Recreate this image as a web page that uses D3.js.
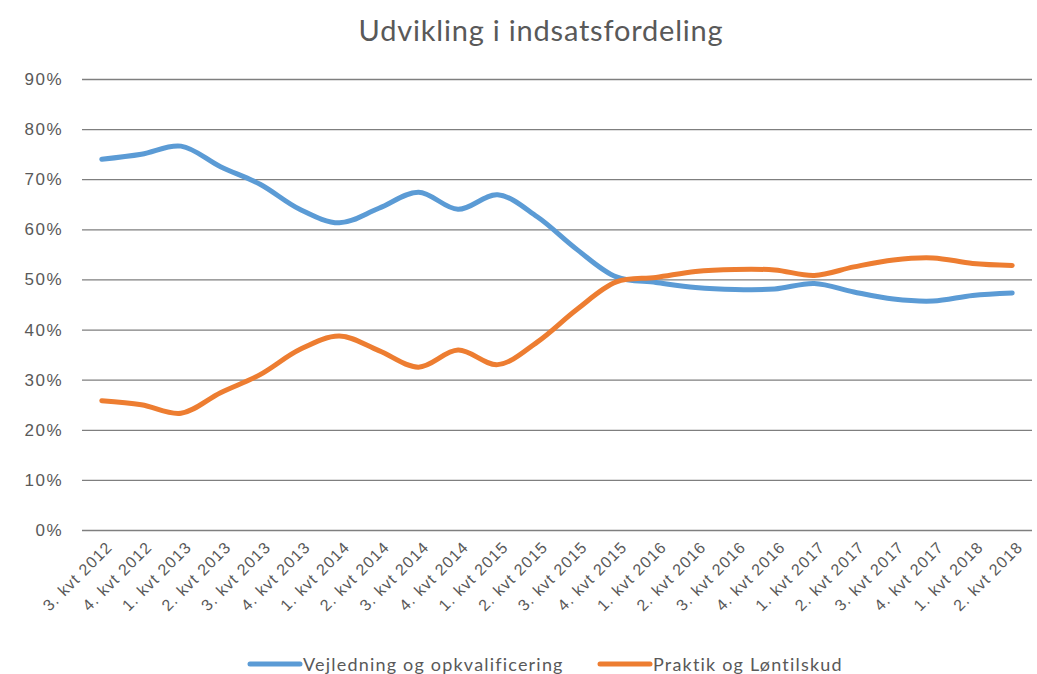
<!DOCTYPE html>
<html>

<head>
  <meta charset="UTF-8" />
  <title>Udvikling i indsatsfordeling</title>
  <style>
    body {
      margin: 0;
      background: #fff;
      font-family: Lato, "Open Sans", sans-serif;
    }

    .tick text {
      fill: #595959;
    }
  </style>
  <script src="https://d3js.org/d3.v7.min.js"></script>
</head>

<body>
  <script>
    /* Data */
    let quarters = [
      "3. kvt 2012", "4. kvt 2012",
      "1. kvt 2013", "2. kvt 2013", "3. kvt 2013", "4. kvt 2013",
      "1. kvt 2014", "2. kvt 2014", "3. kvt 2014", "4. kvt 2014",
      "1. kvt 2015", "2. kvt 2015", "3. kvt 2015", "4. kvt 2015",
      "1. kvt 2016", "2. kvt 2016", "3. kvt 2016", "4. kvt 2016",
      "1. kvt 2017", "2. kvt 2017", "3. kvt 2017", "4. kvt 2017",
      "1. kvt 2018", "2. kvt 2018"
    ];
    let vejledning = [74.0, 75.0, 76.6, 72.5, 69.0, 64.0, 61.3, 64.2, 67.4, 64.0, 66.9, 62.5,
      56.0, 50.5, 49.4, 48.4, 48.0, 48.1, 49.2, 47.5, 46.1, 45.7, 46.8, 47.3];
    let praktik = [25.8, 25.0, 23.3, 27.4, 31.0, 36.0, 38.7, 35.8, 32.5, 35.9, 33.0, 37.5,
      44.0, 49.5, 50.4, 51.6, 52.0, 51.9, 50.8, 52.5, 53.9, 54.3, 53.2, 52.8];
    let yTicks = [0, 10, 20, 30, 40, 50, 60, 70, 80, 90];
    let seriesNames = ["Vejledning og opkvalificering", "Praktik og Løntilskud"];
    let seriesColors = ["#5b9bd5", "#ed7d31"];

    let width = 1037, height = 674;
    let margin = { top: 79, right: 5, bottom: 144, left: 82 };

    let svg = d3.select("body")
      .append("svg")
      .attr("width", width)
      .attr("height", height);

    /* Title */
    svg.append("text")
      .attr("x", 541)
      .attr("y", 41)
      .attr("text-anchor", "middle")
      .style("font-size", "29px")
      .style("letter-spacing", "0.8px")
      .style("fill", "#595959")
      .text("Udvikling i indsatsfordeling");

    let xScale = d3.scalePoint()
      .domain(quarters)
      .range([margin.left, width - margin.right])
      .padding(0.5);

    let yScale = d3.scaleLinear()
      .domain([0, 90])
      .range([height - margin.bottom, margin.top]);

    /* Gridlines + y labels */
    let yAxis = svg.append("g")
      .attr("transform", `translate(${margin.left},0)`)
      .call(d3.axisLeft(yScale)
        .tickValues(yTicks)
        .tickSize(-(width - margin.left - margin.right))
        .tickPadding(19)
        .tickFormat(d => d + "%"));
    yAxis.select(".domain").remove();
    yAxis.selectAll(".tick line")
      .attr("stroke", "#7f7f7f")
      .attr("stroke-width", 1.3);
    yAxis.selectAll(".tick text")
      .style("font-size", "17px")
      .style("letter-spacing", "1.5px");

    /* X labels */
    let xAxis = svg.append("g")
      .attr("transform", `translate(0,${height - margin.bottom})`)
      .call(d3.axisBottom(xScale).tickSize(0));
    xAxis.select(".domain").remove();
    xAxis.selectAll(".tick text")
      .style("font-size", "16px")
      .style("letter-spacing", "1.1px")
      .attr("text-anchor", "end")
      .attr("dy", "0")
      .attr("transform", "translate(9,16) rotate(-45)");

    /* Lines */
    let line = d3.line()
      .x((d, i) => xScale(quarters[i]))
      .y(d => yScale(d))
      .curve(d3.curveCatmullRom.alpha(0.5));

    [vejledning, praktik].forEach((values, i) => {
      svg.append("path")
        .datum(values)
        .attr("fill", "none")
        .attr("stroke", seriesColors[i])
        .attr("stroke-width", 5)
        .attr("stroke-linecap", "round")
        .attr("d", line);
    });

    /* Legend */
    let legendX = [250, 600];
    seriesNames.forEach((name, i) => {
      let g = svg.append("g")
        .attr("transform", `translate(${legendX[i]},664)`);
      g.append("line")
        .attr("x1", 0).attr("x2", 50)
        .attr("stroke", seriesColors[i])
        .attr("stroke-width", 5)
        .attr("stroke-linecap", "round");
      g.append("text")
        .attr("x", 53)
        .attr("y", 7)
        .style("font-size", "18px")
        .style("letter-spacing", "1.2px")
        .style("fill", "#595959")
        .text(name);
    });
  </script>
</body>

</html>
